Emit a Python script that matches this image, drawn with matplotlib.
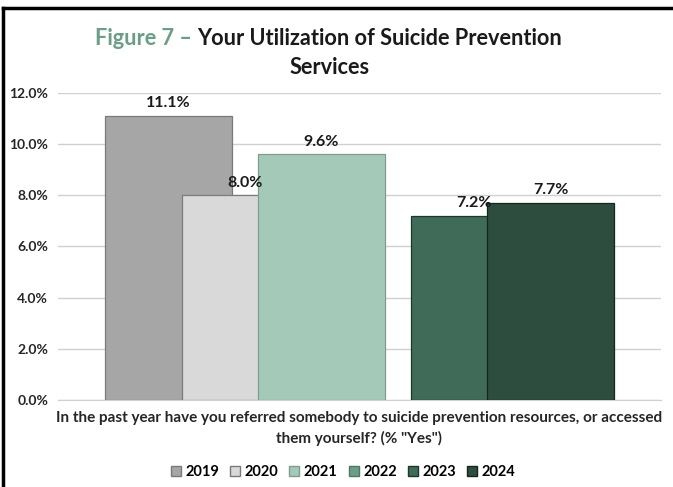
import numpy as np
import matplotlib.pyplot as plt
from matplotlib.lines import Line2D

plt.rcParams['font.family'] = ['Lato', 'DejaVu Sans']

years = ['2019', '2020', '2021', '2022', '2023', '2024']
values = [11.1, 8.0, 9.6, np.nan, 7.2, 7.7]
colors = ['#a6a6a6', '#d9d9d9', '#a5c9b9', '#6b9e86', '#3f6b58', '#2d4d3f']
edges = ['#7a7a7a', '#7a7a7a', '#7f9c8f', '#4d7663', '#1f362b', '#16261f']
yticks = [0, 2, 4, 6, 8, 10, 12]

fig = plt.figure(figsize=(6.73, 4.87), dpi=100)
ax = fig.add_axes([0.086, 0.179, 0.896, 0.630])

x = np.arange(len(years))
for i in range(len(years)):
    if np.isnan(values[i]):
        continue
    ax.bar(x[i], values[i], width=1.66, color=colors[i], edgecolor=edges[i],
           linewidth=0.9, zorder=2 + i)
    ax.text(x[i], values[i] + 0.22, '{:.1f}%'.format(values[i]), ha='center',
            va='bottom', fontsize=11.5, fontweight='bold', color='#1a1a1a',
            zorder=10)

ax.set_xlim(-1.45, 6.44)
ax.set_ylim(0, 12)
ax.set_yticks(yticks)
ax.set_yticklabels(['{:.1f}%'.format(v) for v in yticks], fontsize=10,
                   fontweight='bold', color='#262626')
ax.set_xticks([])
ax.yaxis.grid(True, color='#d0d0d0', linewidth=1, zorder=0)
ax.set_axisbelow(True)
for s in ['top', 'right', 'left']:
    ax.spines[s].set_visible(False)
ax.spines['bottom'].set_color('#d0d0d0')
ax.tick_params(axis='y', length=0, pad=7)

# title in two colours, centred as one line
r = fig.canvas.get_renderer()
inv = fig.transFigure.inverted()
t1 = fig.text(0, 0.920, 'Figure 7 \u2013 ', fontsize=15.7, fontweight='bold',
              color='#6a9e86', ha='left', va='center')
t2 = fig.text(0, 0.920, 'Your Utilization of Suicide Prevention', fontsize=15.7,
              fontweight='bold', color='#1a1a1a', ha='left', va='center')
w1 = t1.get_window_extent(renderer=r).transformed(inv).width
w2 = t2.get_window_extent(renderer=r).transformed(inv).width
x0 = 0.488 - (w1 + w2) / 2
t1.set_x(x0)
t2.set_x(x0 + w1)
fig.text(0.490, 0.862, 'Services', fontsize=15.7, fontweight='bold',
         color='#1a1a1a', ha='center', va='center')

fig.text(0.533, 0.142, 'In the past year have you referred somebody to suicide prevention resources, or accessed',
         fontsize=11, fontweight='bold', color='#262626', ha='center', va='center')
fig.text(0.533, 0.100, 'them yourself? (% "Yes")', fontsize=11,
         fontweight='bold', color='#262626', ha='center', va='center')

handles = [Line2D([], [], marker='s', linestyle='', markersize=7,
                  markerfacecolor=colors[i], markeredgecolor=edges[i])
           for i in range(len(years))]
fig.legend(handles, years, loc='center', bbox_to_anchor=(0.507, 0.031), ncol=6,
           frameon=False, handletextpad=0.05, columnspacing=0.5,
           handlelength=1.2, prop={'weight': 'bold', 'size': 10.5})

# black frame on left and top of the screenshot
fig.add_artist(Line2D([0.004, 0.004], [0, 0.984], color='black', linewidth=2.5))
fig.add_artist(Line2D([0.004, 1], [0.984, 0.984], color='black', linewidth=2.5))

fig.savefig('out.png', dpi=100)
